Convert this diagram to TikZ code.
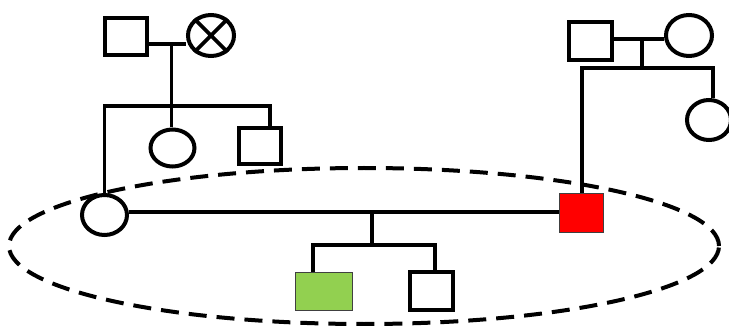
\documentclass[tikz,border=0pt]{standalone}
\usetikzlibrary{shapes.geometric}
\definecolor{kidgreen}{HTML}{92D050}
\begin{document}
\begin{tikzpicture}[x=1pt,y=-1pt,
  male/.style={rectangle,draw=black,line width=4pt,fill=white,inner sep=0pt},
  female/.style={ellipse,draw=black,line width=4pt,fill=white,inner sep=0pt},
  filledmale/.style={rectangle,draw=black!75,line width=1pt,inner sep=0pt},
  link/.style={draw=black,line width=3.6pt,line join=miter},
  grouping/.style={ellipse,draw=black,line width=4pt,dash pattern=on 18pt off 10pt,inner sep=0pt}
]
\useasboundingbox (0,0) rectangle (729,326);
% grouping ellipse
\node[grouping,minimum width=710pt,minimum height=156pt] (grp) at (364,246) {};
% top-left family
\node[male,minimum width=42pt,minimum height=37pt] (m1) at (126,36.5) {};
\node[female,minimum width=46pt,minimum height=41pt] (f1) at (211,35.5) {};
\draw[line width=3.6pt] (f1.45) -- (f1.225) (f1.135) -- (f1.315);
\node[female,minimum width=45pt,minimum height=40pt] (d1) at (104.5,215) {};
\node[female,minimum width=44pt,minimum height=37pt] (d2) at (172.5,148) {};
\node[male,minimum width=42pt,minimum height=36pt] (d3) at (260,146) {};
% top-right family
\node[male,minimum width=43pt,minimum height=38pt] (m2) at (590.5,41) {};
\node[female,minimum width=46pt,minimum height=41pt] (f2) at (689,35.5) {};
\node[female,minimum width=44pt,minimum height=40pt] (d5) at (709,120) {};
\node[filledmale,fill=red,minimum width=44pt,minimum height=39pt] (d4) at (581.5,213) {};
% children of the couple
\node[filledmale,fill=kidgreen,minimum width=57pt,minimum height=38pt] (g1) at (324,291.5) {};
\node[male,minimum width=43pt,minimum height=38pt] (g2) at (431.5,291) {};
% connectors, top-left
\coordinate (c1) at (171.5,44);
\coordinate (s1r) at (270,106);
\draw[link] (m1.east |- c1) -- (f1.west |- c1);
\draw[link] (c1) -- (c1 |- d2.north);
\draw[link] (d1.north) |- (s1r) -- (s1r |- d3.north);
% connectors, top-right
\coordinate (c2) at (642,39);
\coordinate (s2) at (642,68);
\coordinate (s2l) at (582,68);
\coordinate (s2r) at (713,68);
\draw[link] (m2.east |- c2) -- (f2.west |- c2);
\draw[link] (c2) -- (s2);
\draw[link] (s2l |- d4.north) -- (s2l) -- (s2r) -- (s2r |- d5.north);
% connectors, bottom
\coordinate (c3) at (372,212);
\coordinate (s3) at (372,245);
\coordinate (s3l) at (313,245);
\coordinate (s3r) at (435,245);
\draw[link] (d1.east |- c3) -- (d4.west |- c3);
\draw[link] (c3) -- (s3);
\draw[link] (s3l |- g1.north) -- (s3l) -- (s3r) -- (s3r |- g2.north);
\end{tikzpicture}
\end{document}
